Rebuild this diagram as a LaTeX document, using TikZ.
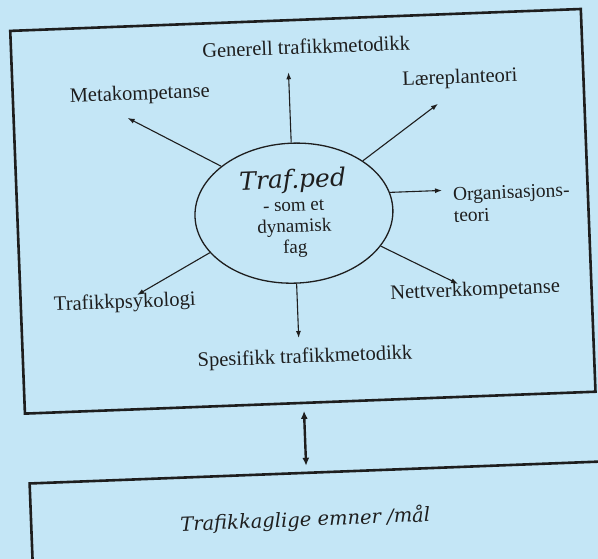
\documentclass[tikz,border=0pt]{standalone}
\usepackage{fontspec}
\setmainfont{Liberation Serif}
\newfontfamily\ifont{DejaVu Serif}
\usetikzlibrary{shapes.geometric,arrows.meta}
\definecolor{bg}{RGB}{196,230,246}
\definecolor{ink}{RGB}{30,30,30}
\begin{document}
\begin{tikzpicture}[x=1pt,y=1pt,
  lbl/.style={font=\fontsize{20.5}{23}\selectfont, text=ink, inner sep=0pt},
  spoke/.style={draw=ink, line width=1.1pt, -{Latex[length=7pt,width=5pt]}},
  frame/.style={draw=ink, line width=2.6pt},
  dbl/.style={draw=ink, line width=2.4pt, {Latex[length=8pt,width=7pt]}-{Latex[length=8pt,width=7pt]}},
]
\useasboundingbox (0,0) rectangle (598,-559);
\fill[bg] (0,0) rectangle (598,-559);
\clip (0,0) rectangle (598,-559);
\begin{scope}[rotate around={2.2:(299,-280)}, transform shape]
  % top panel
  \node[frame, minimum width=571, minimum height=383, inner sep=0pt] (panel) at (305.5,-211.5) {};
  % bottom panel (runs off the page)
  \draw[frame] (22,-700) -- (22,-473) -- (720,-473);
  \node[font=\ifont\itshape\fontsize{19.5}{22}\selectfont, text=ink, inner sep=0pt] (goal) at (296,-520) {Trafikkaglige emner /mål};
  % link between panels
  \coordinate (dtop) at (299,-411);
  \coordinate (dbot) at (299,-466);
  \draw[dbl] (dtop) -- (dbot);

  % centre ellipse
  \node[ellipse, draw=ink, line width=1.3pt, minimum width=198, minimum height=140, inner sep=0pt,
        align=center, text=ink, font=\fontsize{19}{21.1}\selectfont] (c) at (296.5,-213)
    {{\ifont\itshape\fontsize{25}{26}\selectfont Traf.ped}\\[2pt] - som et\\ dynamisk\\ fag};

  % labels
  \node[lbl] (gen)  at (315,-47)   {Generell trafikkmetodikk};
  \node[lbl] (meta) at (147,-89)   {Metakompetanse};
  \node[lbl] (laer) at (467.6,-85) {Læreplanteori};
  \node[lbl, align=left, anchor=west, font=\fontsize{19.5}{21.6}\selectfont] (org) at (456,-211) {Organisasjons-\\teori};
  \node[lbl] (nett) at (474.6,-297.7) {Nettverkkompetanse};
  \node[lbl] (psyk) at (124,-296.4) {Trafikkpsykologi};
  \node[lbl] (spes) at (302,-358)  {Spesifikk trafikkmetodikk};

  % arrow tips
  \coordinate (tgen)  at (296.5,-72);
  \coordinate (tmeta) at (134,-111.5);
  \coordinate (tlaer) at (444.7,-109.3);
  \coordinate (torg)  at (445.4,-196);
  \coordinate (tnett) at (457.8,-290);
  \coordinate (tpsyk) at (136.6,-288.8);
  \coordinate (tspes) at (296.5,-338);

  % spokes
  \draw[spoke] (c.90)  -- (tgen);
  \draw[spoke] (c.145) -- (tmeta);
  \draw[spoke] (c.35)  -- (tlaer);
  \draw[spoke] (c.10)  -- (torg);
  \draw[spoke] (c.-23.5) -- (tnett);
  \draw[spoke] (c.203) -- (tpsyk);
  \draw[spoke] (c.270) -- (tspes);
\end{scope}
\end{tikzpicture}
\end{document}
